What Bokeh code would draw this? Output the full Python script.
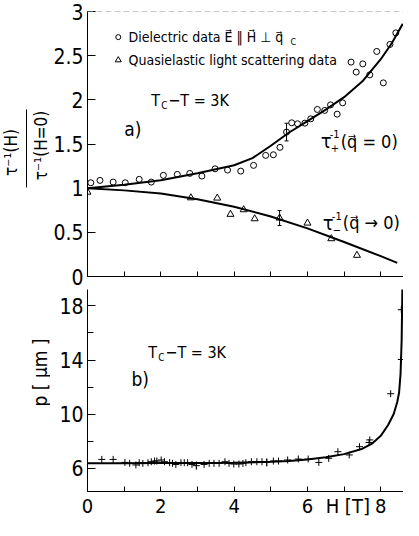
import numpy as np
from bokeh.plotting import figure
from bokeh.layouts import column, row
from bokeh.models import Range1d, FixedTicker, Label, Span
from bokeh.core.properties import value
from bokeh.embed import file_html
from bokeh.resources import INLINE

FONT = "DejaVu Sans Condensed"

# ---------------- data: panel a) ----------------
diel_H = [0.09, 0.34, 0.70, 1.03, 1.41, 1.74, 2.07, 2.45, 2.79, 3.12, 3.48, 3.82, 4.18,
          4.53, 4.86, 5.07, 5.25, 5.43, 5.57, 5.73, 5.93, 6.09, 6.27, 6.47, 6.63, 6.81,
          6.96, 7.19, 7.33, 7.51, 7.70, 7.89, 8.07, 8.25, 8.41]
diel_y = [1.061, 1.088, 1.069, 1.061, 1.100, 1.069, 1.145, 1.156, 1.167, 1.137, 1.219,
          1.205, 1.193, 1.258, 1.371, 1.378, 1.462, 1.635, 1.740, 1.729, 1.736, 1.785,
          1.891, 1.880, 1.943, 1.838, 1.966, 2.427, 2.314, 2.407, 2.283, 2.548, 2.192,
          2.627, 2.758]
qels_H = [0.0, 2.82, 3.54, 3.90, 4.26, 4.56, 5.24, 6.00, 6.65, 7.35]
qels_y = [0.955, 0.891, 0.888, 0.704, 0.756, 0.654, 0.662, 0.605, 0.428, 0.240]
err_a_H = [5.43, 5.24]
err_a_y = [1.635, 0.662]
err_a_d = [0.10, 0.085]

fit_plus_H = [0, 1, 2, 3, 4, 4.5, 5, 5.5, 6, 6.5, 7, 7.5, 8, 8.3, 8.6]
fit_plus_y = [1.0, 1.04, 1.09, 1.17, 1.26, 1.34, 1.48, 1.63, 1.76, 1.89, 2.03, 2.21,
              2.46, 2.64, 2.86]
fit_minus_H = [0, 1, 2, 3, 4, 5, 6, 7, 8, 8.45]
fit_minus_y = [1.0, 0.975, 0.94, 0.875, 0.79, 0.68, 0.545, 0.39, 0.23, 0.155]

# ---------------- data: panel b) ----------------
pitch_H = [0.39, 0.70, 1.02, 1.15, 1.32, 1.41, 1.51, 1.65, 1.74, 1.83, 1.89, 2.01, 2.10,
           2.24, 2.32, 2.41, 2.55, 2.64, 2.73, 2.85, 2.97, 3.18, 3.32, 3.45, 3.59, 3.75,
           3.86, 3.99, 4.13, 4.24, 4.32, 4.47, 4.62, 4.76, 4.89, 5.07, 5.21, 5.46, 5.75,
           6.02, 6.31, 6.58, 6.83, 7.14, 7.42, 7.68, 7.70, 8.27, 8.56, 8.56]
pitch_p = [6.66, 6.66, 6.44, 6.37, 6.25, 6.42, 6.37, 6.42, 6.49, 6.54, 6.54, 6.62, 6.49,
           6.42, 6.37, 6.29, 6.42, 6.42, 6.42, 6.29, 6.20, 6.29, 6.37, 6.37, 6.37, 6.49,
           6.37, 6.32, 6.32, 6.37, 6.42, 6.49, 6.49, 6.49, 6.44, 6.54, 6.54, 6.62, 6.69,
           6.69, 6.44, 6.74, 7.23, 6.99, 7.60, 7.91, 8.10, 11.51, 17.72, 14.04]
err_b_H = [2.97, 4.89]
err_b_p = [6.20, 6.44]
err_b_d = [0.30, 0.30]

fit_p_H = [0, 1, 2, 3, 4, 5, 5.5, 6, 6.5, 7, 7.5, 7.75, 8.0, 8.2, 8.35, 8.45, 8.5,
           8.54, 8.57, 8.59]
fit_p_y = [6.37, 6.37, 6.39, 6.40, 6.42, 6.48, 6.55, 6.66, 6.82, 7.05, 7.45, 7.80, 8.40,
           9.2, 10.0, 10.9, 11.6, 13.0, 15.5, 19.4]

x_int_ticks = [0, 1, 2, 3, 4, 5, 6, 7, 8]
x_label_ticks = [0, 2, 4, 6, 7.1, 8]
x_label_text = {0: "0", 2: "2", 4: "4", 6: "6", 7.1: "H [T]", 8: "8"}
ya_ticks = [0, 0.5, 1, 1.5, 2, 2.5, 3]
ya_labels = {0: "0", 0.5: "0.5", 1: "1", 1.5: "1.5", 2: "2", 2.5: "2.5", 3: "3"}
yb_major = [6, 10, 14, 18]
yb_minor = [8, 12, 16]

XR = (0, 8.62)
W = 353
STRIP = 50
HA, HB = 289, 231


def style_axes(p):
    for ax in (p.xaxis[0], p.yaxis[0]):
        ax.axis_line_color = "black"
        ax.axis_line_width = 1
        ax.major_tick_line_color = "black"
        ax.minor_tick_line_color = "black"
        ax.major_tick_out = 0
        ax.minor_tick_out = 0
        ax.major_label_text_font = FONT
        ax.major_label_text_color = "black"
    p.grid.visible = False
    p.outline_line_color = None
    p.background_fill_color = "white"
    p.border_fill_color = "white"


def lab(p, x, y, text, size, xo=0, yo=0, align="left", base="middle"):
    p.add_layout(Label(x=x, y=y, text=text, x_offset=xo, y_offset=yo,
                       text_font=FONT, text_font_size=f"{size}px",
                       text_color="black", text_align=align, text_baseline=base))


# ================= left strip (axis titles), pixel coordinates =================
ps = figure(width=STRIP, height=HA + HB, output_backend="svg", toolbar_location=None,
            x_range=Range1d(0, STRIP), y_range=Range1d(0, HA + HB),
            min_border_left=0, min_border_right=0, min_border_top=0, min_border_bottom=0)
ps.axis.visible = False
ps.grid.visible = False
ps.outline_line_color = None
ps.background_fill_color = "white"
ps.border_fill_color = "white"
ps.text(x=[10], y=[368], text=["\u03c4\u207b\u00b9(H)"],
        angle=90, angle_units="deg", text_align="center", text_baseline="middle",
        text_font=value(FONT), text_font_size="17px", text_color="black")
ps.text(x=[40], y=[375], text=["\u03c4\u207b\u00b9(H=0)"],
        angle=90, angle_units="deg", text_align="center", text_baseline="middle",
        text_font=value(FONT), text_font_size="17px", text_color="black")
ps.segment(x0=[26], y0=[333], x1=[26], y1=[411], line_color="black", line_width=1)
ps.text(x=[39], y=[148], text=["p [ \u03bcm ]"],
        angle=90, angle_units="deg", text_align="center", text_baseline="middle",
        text_font=value(FONT), text_font_size="19px", text_color="black")

# ================= panel a =================
pa = figure(width=W, height=HA, output_backend="svg", toolbar_location=None,
            x_range=Range1d(*XR), y_range=Range1d(0, 3),
            min_border_left=86 - STRIP, min_border_right=0, min_border_top=11,
            min_border_bottom=13)
style_axes(pa)
pa.xaxis.ticker = FixedTicker(ticks=[], minor_ticks=x_int_ticks)
pa.xaxis.major_label_standoff = 0
pa.xaxis.minor_tick_in = 5
pa.yaxis.ticker = FixedTicker(ticks=ya_ticks, minor_ticks=[])
pa.yaxis.major_label_overrides = ya_labels
pa.yaxis.major_label_text_font_size = "21px"
pa.yaxis.major_label_standoff = 4
pa.yaxis.major_tick_in = 8
pa.add_layout(Span(location=3, dimension="width", line_color="#999999",
                   line_width=1, line_dash="6 3"))

pa.line(fit_plus_H, fit_plus_y, line_color="black", line_width=2)
pa.line(fit_minus_H, fit_minus_y, line_color="black", line_width=2)
pa.scatter(diel_H, diel_y, marker="circle", size=6, fill_color=None,
           line_color="black", line_width=1)
pa.scatter(qels_H, qels_y, marker="triangle", size=7, fill_color=None,
           line_color="black", line_width=1)
lo_a = [a - d for a, d in zip(err_a_y, err_a_d)]
hi_a = [a + d for a, d in zip(err_a_y, err_a_d)]
pa.segment(x0=err_a_H, y0=lo_a, x1=err_a_H, y1=hi_a, line_color="black", line_width=1)
pa.scatter(err_a_H + err_a_H, lo_a + hi_a, marker="dash", size=4, line_color="black")

# legend
pa.scatter([0.84], [2.71], marker="circle", size=5, fill_color=None, line_color="black")
pa.scatter([0.84], [2.45], marker="triangle", size=6, fill_color=None, line_color="black")
lab(pa, 1.12, 2.71, "Dielectric data E\u20d7 \u2016 H\u20d7 \u22a5 q\u20d7", 14)
lab(pa, 1.12, 2.71, "C", 9, xo=162, yo=-5)
lab(pa, 1.12, 2.455, "Quasielastic light scattering data", 14)
# Tc - T = 3K
lab(pa, 1.74, 1.99, "T", 16)
lab(pa, 1.74, 1.99, "C", 10, xo=10, yo=-5)
lab(pa, 1.74, 1.99, "\u2212T = 3K", 16, xo=17)
lab(pa, 1.0, 1.67, "a)", 19)
# tau_+^-1 (q = 0)
lab(pa, 6.36, 1.53, "\u03c4", 20)
lab(pa, 6.36, 1.53, "-1", 11, xo=9, yo=7)
lab(pa, 6.36, 1.53, "+", 11, xo=10, yo=-7)
lab(pa, 6.36, 1.53, "(q\u20d7 = 0)", 18, xo=20)
# tau_-^-1 (q -> 0)
lab(pa, 6.42, 0.61, "\u03c4", 20)
lab(pa, 6.42, 0.61, "-1", 11, xo=9, yo=7)
lab(pa, 6.42, 0.61, "\u2212", 11, xo=10, yo=-7)
lab(pa, 6.42, 0.61, "(q\u20d7 \u2192 0)", 18, xo=20)

# ================= panel b =================
pb = figure(width=W, height=HB, output_backend="svg", toolbar_location=None,
            x_range=Range1d(*XR), y_range=Range1d(4.29, 19.21),
            min_border_left=86 - STRIP, min_border_right=0, min_border_top=0,
            min_border_bottom=28)
style_axes(pb)
pb.xaxis.ticker = FixedTicker(ticks=x_label_ticks, minor_ticks=x_int_ticks)
pb.xaxis.major_label_overrides = x_label_text
pb.xaxis.major_label_text_font_size = "20px"
pb.xaxis.major_label_standoff = 2
pb.xaxis.major_tick_in = 0
pb.xaxis.minor_tick_in = 5
pb.yaxis.ticker = FixedTicker(ticks=yb_major, minor_ticks=yb_minor)
pb.yaxis.major_label_text_font_size = "21px"
pb.yaxis.major_label_standoff = 4
pb.yaxis.major_tick_in = 8
pb.yaxis.minor_tick_in = 6

pb.line(fit_p_H, fit_p_y, line_color="black", line_width=2)
pb.scatter(pitch_H, pitch_p, marker="cross", size=7, line_color="black", line_width=1)
lo_b = [a - d for a, d in zip(err_b_p, err_b_d)]
hi_b = [a + d for a, d in zip(err_b_p, err_b_d)]
pb.segment(x0=err_b_H, y0=lo_b, x1=err_b_H, y1=hi_b, line_color="black", line_width=1)

lab(pb, 1.66, 14.58, "T", 16)
lab(pb, 1.66, 14.58, "C", 10, xo=10, yo=-5)
lab(pb, 1.66, 14.58, "\u2212T = 3K", 16, xo=17)
lab(pb, 1.2, 12.6, "b)", 19)

layout = row(ps, column(pa, pb, spacing=0), spacing=0)
open("out.html", "w").write(file_html(layout, INLINE))
